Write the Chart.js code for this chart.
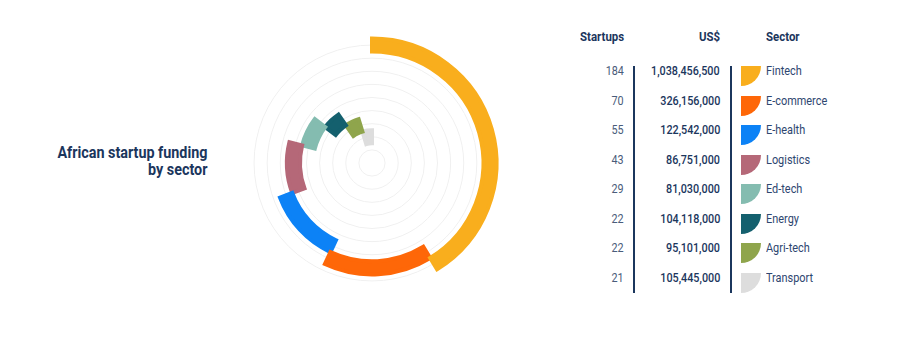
<!DOCTYPE html>
<html>
<head>
<meta charset="utf-8">
<script src="https://cdn.jsdelivr.net/npm/chart.js@4.4.1/dist/chart.umd.min.js"></script>
<style>
  body { margin: 0; background: #fff; }
  #page { position: relative; width: 918px; height: 344px; overflow: hidden;
          font-family: "Roboto", sans-serif; color: #1b365d; }
  #chartBox { position: absolute; left: 222px; top: 13px; width: 300px; height: 300px; }
  .title { position: absolute; right: 711px; top: 144px; font-size: 16.5px; line-height: 17px;
           font-weight: 700; text-align: right; white-space: nowrap; color: #1b365d;
           transform: scaleX(0.87); transform-origin: right center; }
  .cell { position: absolute; font-size: 13px; line-height: 16px; white-space: nowrap; }
  .r { transform-origin: right center; }
  .l { transform-origin: left center; }
  .head { font-weight: 700; color: #1b365d; transform: scaleX(0.88); }
  .num { color: #4a5c7a; transform: scaleX(0.83); }
  .usd { color: #1b365d; font-weight: 500; transform: scaleX(0.83); }
  .sec { color: #2e4670; transform: scaleX(0.84); }
  .vline { position: absolute; width: 1.5px; background: #1b365d; top: 66px; height: 227px; }
  .swatch { position: absolute; left: 741px; width: 20px; height: 20px; border-bottom-right-radius: 100%; }
</style>
</head>
<body>
<div id="page">
  <div id="chartBox"><canvas id="ringChart"></canvas></div>
  <div class="title">African startup funding<br>by sector</div>
  <div id="table"></div>
</div>
<script>
const sectors = ['Fintech', 'E-commerce', 'E-health', 'Logistics', 'Ed-tech', 'Energy', 'Agri-tech', 'Transport'];
const startups = [184, 70, 55, 43, 29, 22, 22, 21];
const funding = [1038456500, 326156000, 122542000, 86751000, 81030000, 104118000, 95101000, 105445000];
const colors = ['#f9ae1d', '#fe6708', '#0c82f6', '#b56878', '#84bcb0', '#14606e', '#8fa54c', '#dddddd'];

// rings: each sector starts where the previous one ended
const total = startups.reduce((s, v) => s + v, 0);
const clear = 'rgba(0,0,0,0)';
let start = 0;
const datasets = sectors.map((name, i) => {
    const ds = {
        label: name,
        data: [start, startups[i], total - start - startups[i]],
        backgroundColor: [clear, colors[i], clear],
        borderColor: [clear, colors[i], clear],
        borderWidth: [0, 4, 0],
        borderJoinStyle: 'miter'
    };
    start += startups[i];
    return ds;
});
// empty innermost ring (only its grid circle shows)
datasets.push({ label: '', data: [total], backgroundColor: clear, borderWidth: 0 });

const ringGrid = {
    id: 'ringGrid',
    beforeDatasetsDraw(chart) {
        const ctx = chart.ctx;
        ctx.save();
        ctx.strokeStyle = '#f0f0f0';
        ctx.lineWidth = 1;
        chart.data.datasets.forEach((ds, i) => {
            const arc = chart.getDatasetMeta(i).data[0];
            if (!arc) return;
            const r = (arc.innerRadius + arc.outerRadius) / 2;
            ctx.beginPath();
            ctx.arc(arc.x, arc.y, r, 0, Math.PI * 2);
            ctx.stroke();
        });
        ctx.restore();
    }
};

new Chart(document.getElementById('ringChart'), {
    type: 'doughnut',
    data: { labels: ['before', 'value', 'after'], datasets: datasets },
    options: {
        responsive: true,
        maintainAspectRatio: false,
        animation: false,
        radius: 124.5,
        cutout: '5.2632%',
        layout: { padding: 0 },
        plugins: { legend: { display: false }, tooltip: { enabled: false } },
        events: []
    },
    plugins: [ringGrid]
});

// table on the right
const table = document.getElementById('table');
function addCell(cls, text, left, right, top) {
    const d = document.createElement('div');
    d.className = 'cell ' + cls + (right != null ? ' r' : ' l');
    d.textContent = text;
    if (left != null) d.style.left = left + 'px';
    if (right != null) d.style.right = right + 'px';
    d.style.top = top + 'px';
    table.appendChild(d);
}
addCell('head', 'Startups', null, 918 - 624, 29);
addCell('head', 'US$', null, 918 - 720, 29);
addCell('head', 'Sector', 766, null, 29);

sectors.forEach((name, i) => {
    const c = 71 + i * 29.5;
    addCell('num', String(startups[i]), null, 918 - 624, c - 8);
    addCell('usd', funding[i].toLocaleString('en-US'), null, 918 - 720, c - 8);
    addCell('sec', name, 766, null, c - 8);
    const sw = document.createElement('div');
    sw.className = 'swatch';
    sw.style.top = (c - 5) + 'px';
    sw.style.background = colors[i];
    table.appendChild(sw);
});

[634, 731].forEach(x => {
    const l = document.createElement('div');
    l.className = 'vline';
    l.style.left = (x - 0.75) + 'px';
    table.appendChild(l);
});
</script>
</body>
</html>
